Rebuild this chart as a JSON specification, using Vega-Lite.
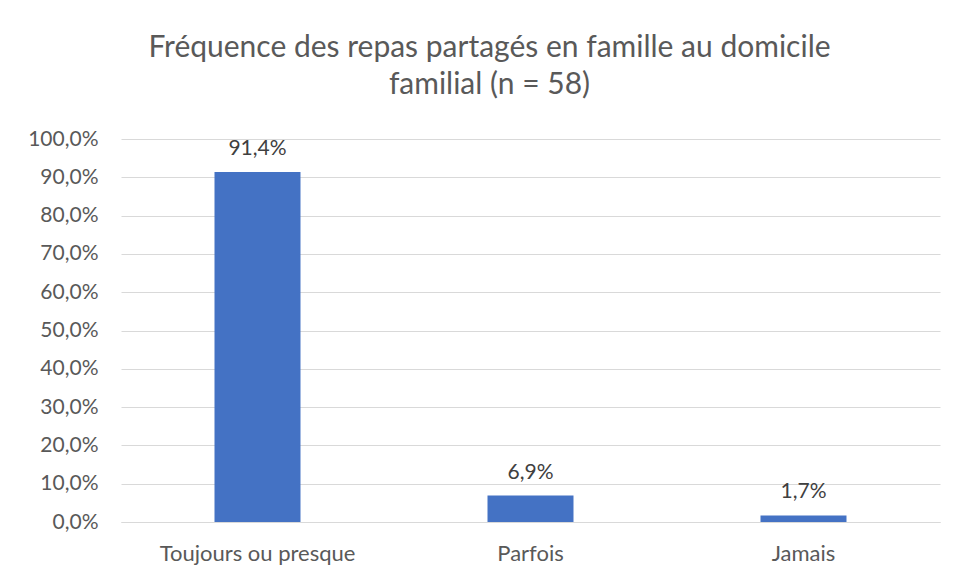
{
  "$schema": "https://vega.github.io/schema/vega-lite/v6.json",
  "width": 819,
  "height": 383,
  "autosize": {"type": "none"},
  "padding": {"left": 121, "top": 139, "right": 17, "bottom": 57},
  "background": "white",
  "title": {
    "text": ["Fréquence des repas partagés en famille au domicile", "familial (n = 58)"],
    "anchor": "middle",
    "dx": -41,
    "offset": 28,
    "font": "Lato",
    "fontSize": 30,
    "fontWeight": "normal",
    "color": "#595959",
    "lineHeight": 37
  },
  "data": {
    "values": [
      {"categorie": "Toujours ou presque", "pct": 0.914},
      {"categorie": "Parfois", "pct": 0.069},
      {"categorie": "Jamais", "pct": 0.017}
    ]
  },
  "encoding": {
    "x": {
      "field": "categorie",
      "type": "nominal",
      "sort": null,
      "title": null,
      "scale": {"paddingInner": 0.685, "paddingOuter": 0.3425},
      "axis": {
        "labelAngle": 0,
        "labelFont": "Lato",
        "labelFontSize": 22,
        "labelColor": "#595959",
        "labelPadding": 21,
        "labelLimit": 400,
        "ticks": false,
        "domainColor": "#D9D9D9",
        "domainWidth": 1
      }
    },
    "y": {
      "field": "pct",
      "type": "quantitative",
      "title": null,
      "scale": {"domain": [0, 1]},
      "axis": {
        "format": ".1%",
        "values": [0, 0.1, 0.2, 0.3, 0.4, 0.5, 0.6, 0.7, 0.8, 0.9, 1.0],
        "labelFont": "Lato",
        "labelFontSize": 21,
        "labelColor": "#595959",
        "labelPadding": 23,
        "ticks": false,
        "domain": false,
        "gridColor": "#D9D9D9",
        "gridWidth": 1
      }
    }
  },
  "layer": [
    {"mark": {"type": "bar", "color": "#4472C4"}},
    {
      "mark": {"type": "text", "baseline": "alphabetic", "dy": -17, "font": "Lato", "fontSize": 21, "color": "#404040"},
      "encoding": {"text": {"field": "pct", "type": "quantitative", "format": ".1%"}}
    }
  ],
  "config": {
    "view": {"stroke": null},
    "locale": {
      "number": {"decimal": ",", "thousands": " ", "grouping": [3], "currency": ["", " €"]}
    }
  }
}
